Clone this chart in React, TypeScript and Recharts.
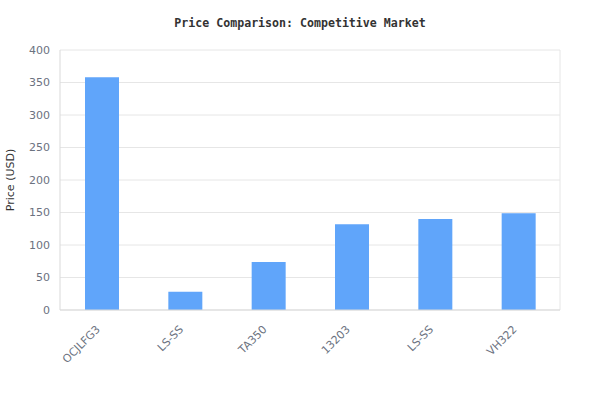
import React from 'react';
import { BarChart, Bar, XAxis, YAxis, CartesianGrid } from 'recharts';

const products = ['OCJLFG3', 'LS-SS', 'TA350', '13203', 'LS-SS', 'VH322'];
const prices = [358, 28, 74, 132, 140, 149];
const yTicks = [0, 50, 100, 150, 200, 250, 300, 350, 400];

const data = products.map((name, i) => ({ name, price: prices[i] }));

const tickStyle = { fontFamily: 'DejaVu Sans', fontSize: 11, fill: '#6b7280' };

const XTick = (props: any) => {
  const { x, y, payload } = props;
  return (
    <g transform={`translate(${x - 1},${y + 12}) rotate(-45)`}>
      <text x={0} y={0} textAnchor="end" style={tickStyle}>
        {payload.value}
      </text>
    </g>
  );
};

export default function App() {
  return (
    <div style={{ position: 'relative', width: 600, height: 420, background: '#fff' }}>
      <style>{`body{margin:0}`}</style>
      <div
        style={{
          position: 'absolute',
          top: 15,
          left: 0,
          width: 600,
          height: 16,
          lineHeight: '16px',
          textAlign: 'center',
          fontFamily: '"DejaVu Sans Mono", monospace',
          fontWeight: 'bold',
          fontSize: 11.6,
          color: '#333',
        }}
      >
        Price Comparison: Competitive Market
      </div>
      <BarChart
        width={600}
        height={420}
        data={data}
        margin={{ top: 50, right: 40, left: 0, bottom: 0 }}
      >
        <CartesianGrid
          stroke="#e6e6e6"
          horizontal={true}
          vertical={true}
          verticalCoordinatesGenerator={({ offset }: any) => [offset.left + offset.width]}
        />
        <XAxis
          dataKey="name"
          height={110}
          interval={0}
          tickLine={false}
          axisLine={{ stroke: '#d9d9d9' }}
          tick={<XTick />}
          allowDuplicatedCategory={true}
        />
        <YAxis
          width={60}
          domain={[0, 400]}
          ticks={yTicks}
          tickLine={false}
          tickMargin={4}
          axisLine={{ stroke: '#d9d9d9' }}
          tick={tickStyle}
          label={{
            value: 'Price (USD)',
            angle: -90,
            position: 'insideLeft',
            offset: 10,
            style: { textAnchor: 'middle', fontFamily: 'DejaVu Sans', fontSize: 11, fill: '#333' },
          }}
        />
        <Bar dataKey="price" fill="#60a5fa" barSize={34} isAnimationActive={false} />
      </BarChart>
    </div>
  );
}
